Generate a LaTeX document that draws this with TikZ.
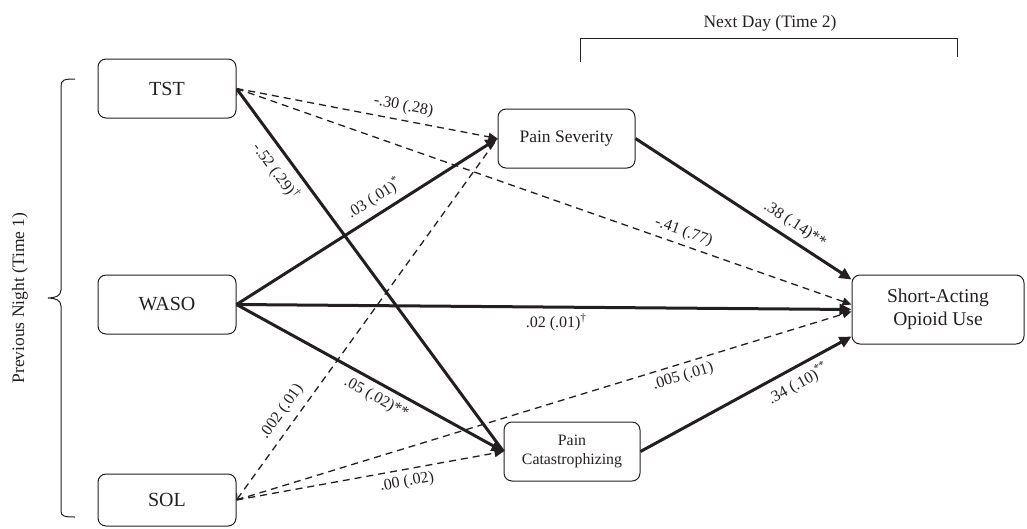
\documentclass[tikz,border=0pt]{standalone}
\usepackage{fontspec}
\setmainfont{Liberation Serif}
\usepackage{xcolor}
\usetikzlibrary{arrows.meta,positioning}
\definecolor{ink}{RGB}{35,31,32}

\begin{document}
\begin{tikzpicture}[
  x=1pt, y=-1pt,
  box/.style={draw=ink, rounded corners=8pt, line width=1pt, minimum width=138pt,
    minimum height=59pt, inner sep=0pt, align=center, text=ink,
    font=\fontsize{20}{22}\selectfont},
  arr/.style={-{Triangle[length=12pt,width=11pt]}, line width=3pt, draw=ink},
  darr/.style={-{Triangle[length=9pt,width=8pt]}, line width=1.3pt,
    dash pattern=on 7pt off 5pt, draw=ink},
  barb/.style={{Straight Barb[length=5pt,width=8pt,line width=1pt]}-},
  lab/.style={font=\fontsize{16}{18}\selectfont, sloped, inner sep=1pt, text=ink},
  brack/.style={line width=1pt, draw=ink}
]
  \useasboundingbox (0,0) rectangle (1027,528);

  % predictors (time 1)
  \node[box] (tst) at (167,88.5) {TST};
  \node[box] (waso) at (167,304.5) {WASO};
  \node[box, minimum height=52pt] (sol) at (167,500) {SOL};

  % mediators and outcome (time 2)
  \node[box, minimum width=137pt, font=\fontsize{17.5}{19}\selectfont] (sev) at (566.5,138.5) {Pain Severity};
  \node[box, minimum width=136pt, font=\fontsize{15.8}{19}\selectfont] (cat) at (572,451.5) {Pain\\Catastrophizing};
  \node[box, minimum width=172pt, minimum height=69pt,
    font=\fontsize{19.5}{23}\selectfont] (sao) at (938,309.5) {Short-Acting\\Opioid Use};

  % time brackets
  \draw[brack] (75,79) .. controls (64,79) and (61,80) .. (61,86) -- (61,290)
    .. controls (61,296) and (55,298) .. (48,298)
    .. controls (55,298) and (61,300) .. (61,306) -- (61,511)
    .. controls (61,516) and (64,517) .. (75,517);
  \node[rotate=90, text=ink, font=\fontsize{17.5}{19}\selectfont] (prev) at (20,298) {Previous Night (Time 1)};
  \draw[brack] (580,62) -- (580,38) -- (957,38) -- (957,57);
  \node[text=ink, font=\fontsize{17.5}{19}\selectfont] (next) at (770,23) {Next Day (Time 2)};

  % paths from TST
  \draw[darr] (tst.east) -- node[lab, pos=0.63, above=5pt] {-.30 (.28)} (sev.west);
  \draw[darr] (tst.east) -- node[lab, pos=0.72, above=4pt] {-.41 (.77)} ([yshift=5pt]sao.west);
  \draw[arr, barb] (tst.east) -- node[lab, pos=0.2, below=6pt] {-.52 (.29)\textsuperscript{†}} (cat.west);

  % paths from WASO
  \draw[arr] (waso.east) -- node[lab, pos=0.56, above=5pt] {.03 (.01)\textsuperscript{*}} (sev.west);
  \draw[arr] (waso.east) -- node[lab, pos=0.52, below=4pt] {.02 (.01)\textsuperscript{†}} (sao.west);
  \draw[arr] (waso.east) -- node[lab, pos=0.55, below=5pt] {.05 (.02)**} (cat.west);

  % paths from SOL
  \draw[darr, barb] (sol.east) -- node[lab, pos=0.22, above=6pt] {.002 (.01)} (sev.west);
  \draw[darr] (sol.east) -- node[lab, pos=0.72, below=4pt] {.005 (.01)} ([yshift=-2pt]sao.west);
  \draw[darr] (sol.east) -- node[lab, pos=0.63, below=4pt] {.00 (.02)} (cat.west);

  % mediators to outcome
  \draw[arr] (sev.east) -- node[lab, pos=0.7, above=5pt] {.38 (.14)**} ([yshift=-5pt]sao.north west);
  \draw[arr] (cat.east) -- node[lab, pos=0.71, below=5pt] {.34 (.10)\textsuperscript{**}} ([yshift=8pt]sao.south west);
\end{tikzpicture}
\end{document}
